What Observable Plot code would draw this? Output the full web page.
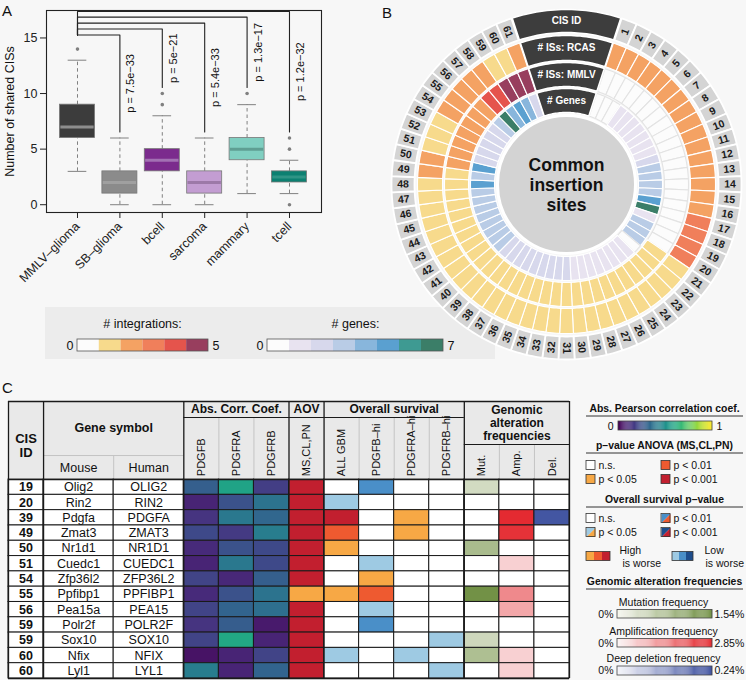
<!DOCTYPE html>
<html><head><meta charset="utf-8">
<script src="https://cdn.jsdelivr.net/npm/d3@7"></script>
<script src="https://cdn.jsdelivr.net/npm/@observablehq/plot@0.6"></script>
<style>
body{margin:0;background:#f7f7f7;font-family:"Liberation Sans",Arial,sans-serif;}
#root{position:relative;width:746px;height:680px;overflow:hidden;background:#f7f7f7;}
.abs{position:absolute;line-height:0;}
.plbl{position:absolute;font-size:15px;color:#111;line-height:1;}
svg{overflow:visible;}
</style></head><body><div id="root"></div>
<script>
// ================= DATA =================
// Panel A
const categories = ["MMLV–glioma","SB–glioma","bcell","sarcoma","mammary","tcell"];
const boxQ1     = [6, 1, 3, 1, 4, 2];
const boxMedian = [7, 2, 4, 2, 5, 2.5];
const boxQ3     = [9, 3, 5, 3, 6, 3];
const whiskerLo = [3, 0, 0, 0, 1, 1];
const whiskerHi = [13, 6, 8, 6, 9, 4];
const outliers  = [[14], [], [9, 10], [], [10], [0, 5, 6]];
const pLabels   = [null, "p = 7.5e−33", "p = 5e−21", "p = 5.4e−33", "p = 1.3e−17", "p = 1.2e−32"];
const bracketHeights = [null, 15.27, 15.8, 16.33, 16.87, 17.38];

// Panel B
const cisNumbers = d3.range(1, 62);
const rcasCounts = [2,2,2,2,2,2,2,2,2,2,2,2,2,2,2,2, 3,3,3,3,
  1,1,1,1,1,1,1,1,1,1,1,1,1,1,1,1,1,1,1,1,1,1,1,1,1,1,1,1,
  2,2, 1,1,1, 2,2,2,2,2, 1,1, 2];
const mmlvCounts = [0,0,0,0,0,0,0,0,0,0,0,0,0,0,0,0,0,0,0,0,
  1,1,1,1,1,1,1,1,1,1,1,1,1,1,1,1,1,1,1,1,1,1,1,1,1,1,1,1,1,
  2,2,2,2,2,2,2, 4,4, 5,5,5];
const geneCounts = [0,0,0, 1,1,1,1,1,1,1, 2, 3,3,3,3, 5, 7, 1, 3,3,3, 0,
  1,1,1,1,1,1,1,1, 2,2,2,2,2,2,2,2,2, 3,3,3,3,3,3,3,3, 5, 3, 5, 2,2,2,2,2, 3, 7, 4, 5, 4, 2];
const ringHeaders = ["CIS ID", "# ISs: RCAS", "# ISs: MMLV", "# Genes"];
const centerLabel = "Common\ninsertion\nsites";
const integrationColors = ["#fcfcfc","#f7da8c","#f4a263","#f07f5b","#e5544c","#983e5e"];
const geneColors = ["#fcfcfc","#e8e3f0","#d7d8ec","#b9cce6","#88b6dc","#5aa0d0","#3e9a92","#3b7e68"];
const legendIntegrationsLabel = "# integrations:";
const legendGenesLabel = "# genes:";

// Panel C
const cisTable   = [19, 20, 39, 49, 50, 51, 54, 55, 56, 59, 59, 60, 60];
const mouseGenes = ["Olig2","Rin2","Pdgfa","Zmat3","Nr1d1","Cuedc1","Zfp36l2","Ppfibp1","Pea15a","Polr2f","Sox10","Nfix","Lyl1"];
const humanGenes = ["OLIG2","RIN2","PDGFA","ZMAT3","NR1D1","CUEDC1","ZFP36L2","PPFIBP1","PEA15","POLR2F","SOX10","NFIX","LYL1"];
const corrPDGFB  = [0.30, 0.10, 0.15, 0.22, 0.12, 0.10, 0.20, 0.12, 0.20, 0.15, 0.20, 0.05, 0.42];
const corrPDGFRA = [0.58, 0.25, 0.40, 0.17, 0.25, 0.40, 0.11, 0.25, 0.32, 0.29, 0.60, 0.10, 0.10];
const corrPDGFRB = [0.18, 0.38, 0.33, 0.42, 0.22, 0.22, 0.30, 0.38, 0.36, 0.07, 0.10, 0.20, 0.32];
const aovLevel   = [3, 3, 3, 3, 3, 3, 3, 1, 3, 3, 3, 3, 3];
// survival: + high is worse, − low is worse; 1: p<0.05, 2: p<0.01, 3: p<0.001
const survAll  = [0, -1, 3, 2, 1, 0, 0, 1, 0, 0, 0, -1, 0];
const survB    = [-2, 0, 0, 0, 0, -1, 1, 2, -1, -2, 0, 0, 0];
const survRA   = [0, 0, 1, 1, 0, 0, 0, 0, 0, 0, 0, -1, 0];
const survRB   = [0, 0, 0, 0, 0, 0, 0, 0, 0, 0, -1, 0, -1];
const mutFreq  = [0.40, 0, 0, 0, 0.85, 0, 0, 1.45, 0, 0, 0.45, 0.80, 0];
const ampFreq  = [0, 0, 2.70, 2.60, 0, 0.50, 0, 1.45, 1.05, 0, 0, 0.50, 0.50];
const delFreq  = [0, 0, 0.22, 0, 0, 0, 0, 0, 0, 0, 0, 0, 0];
const subHeaders = ["PDGFB","PDGFRA","PDGFRB","MS,CL,PN","ALL GBM","PDGFB–hi","PDGFRA–hi","PDGFRB–hi","Mut.","Amp.","Del."];
const groupHeaders = ["Abs. Corr. Coef.","AOV","Overall survival","Genomic\nalteration\nfrequencies"];

// Right legend
const legendTitles = ["Abs. Pearson correlation coef.","p–value ANOVA (MS,CL,PN)","Overall survival p–value","Genomic alteration frequencies"];
const pLevelLabels = ["n.s.","p < 0.05","p < 0.01","p < 0.001"];
const freqLabels = ["Mutation frequency","Amplification frequency","Deep deletion frequency"];
const freqMaxLabels = ["1.54%","2.85%","0.24%"];
const freqMax = [1.54, 2.85, 0.24];

// ================= STYLE / HELPERS =================
const FONT = "'Liberation Sans', Arial, Helvetica, sans-serif";
const anovaColors = ["#ffffff","#f7a845","#ee5a30","#c21f2f"];
const lowColors   = ["#ffffff","#9ecae3","#4a8fc8","#1e4d8c"];
const freqRanges = [["#f7f7f1","#6a8b3b"],["#fcf6f6","#e31f26"],["#f6f6fb","#33479a"]];
const freqScales = freqRanges.map((r, j) => d3.scaleLinear().domain([0, freqMax[j]]).range(r).clamp(true));
const survColor = v => v > 0 ? anovaColors[v] : lowColors[-v];

const root = document.getElementById("root");
function place(node, left, top) {
  const d = document.createElement("div");
  d.className = "abs"; d.style.left = left + "px"; d.style.top = top + "px";
  d.appendChild(node); root.appendChild(d); return d;
}
function label(txt, left, top) {
  const d = document.createElement("div");
  d.className = "plbl"; d.textContent = txt; d.style.left = left + "px"; d.style.top = top + "px";
  root.appendChild(d);
}

// ================= PANEL A =================
const bw = 0.4127, cw = 0.22;
const boxColors = ["#3c3c3c","#8b8b8b","#7b2b8d","#c39dd2","#80cfc1","#0c8071"];
const medColors = ["#8d8d8d","#a0a0a0","#a271b3","#9c79a8","#5f9f93","#2f9485"];
const boxes = categories.map((c, i) => ({i, q1: boxQ1[i], med: boxMedian[i], q3: boxQ3[i], lo: whiskerLo[i], hi: whiskerHi[i], fill: boxColors[i], mc: medColors[i]}));
const outPts = outliers.flatMap((arr, i) => arr.map(v => ({i, v})));
const minH = d3.min(bracketHeights.filter(h => h != null));
const brackets = [], pText = [];
for (let i = 1; i < categories.length; i++) {
  const h = bracketHeights[i];
  const end = Math.max(whiskerHi[i], ...outliers[i]) + 0.55;
  brackets.push({b: i, x: 0, y: minH}, {b: i, x: 0, y: h}, {b: i, x: i, y: h}, {b: i, x: i, y: end});
  pText.push({i, y: (h + end) / 2, t: pLabels[i]});
}
const plotA = Plot.plot({
  width: 330, height: 300, marginLeft: 46, marginRight: 9, marginTop: 10, marginBottom: 88,
  style: {background: "transparent", fontFamily: FONT, fontSize: "12.5px", color: "#222"},
  x: {domain: [-0.731, 5.755], ticks: d3.range(6), tickFormat: i => categories[i], tickRotate: -45, tickSize: 6, label: null},
  y: {domain: [-0.7, 17.47], ticks: [0, 5, 10, 15], tickSize: 6, label: null},
  color: {type: "identity"},
  marks: [
    Plot.ruleX(boxes, {x: "i", y1: "q3", y2: "hi", stroke: "#808080", strokeDasharray: "3.5,3"}),
    Plot.ruleX(boxes, {x: "i", y1: "lo", y2: "q1", stroke: "#808080", strokeDasharray: "3.5,3"}),
    Plot.ruleY(boxes, {y: "hi", x1: d => d.i - cw, x2: d => d.i + cw, stroke: "#808080"}),
    Plot.ruleY(boxes, {y: "lo", x1: d => d.i - cw, x2: d => d.i + cw, stroke: "#808080"}),
    Plot.rect(boxes, {x1: d => d.i - bw, x2: d => d.i + bw, y1: "q1", y2: "q3", fill: "fill", stroke: "#777", strokeWidth: 0.8}),
    Plot.ruleY(boxes, {y: "med", x1: d => d.i - bw + 0.02, x2: d => d.i + bw - 0.02, stroke: "mc", strokeWidth: 3}),
    Plot.dot(outPts, {x: "i", y: "v", r: 1.8, fill: "#808080"}),
    Plot.line(brackets, {x: "x", y: "y", z: "b", stroke: "#222", strokeWidth: 1.1}),
    Plot.text(pText, {x: "i", y: "y", text: "t", rotate: -90, dx: 11, fontSize: 11, fill: "#111"}),
    Plot.frame({stroke: "#222", strokeWidth: 1.1}),
    Plot.text(["Number of shared CISs"], {frameAnchor: "left", rotate: -90, dx: -37, textAnchor: "middle", fontSize: 12.5, fill: "#111"})
  ]
});
place(plotA, 0, 0);

// ================= LEGEND UNDER A/B =================
const boxDiv = document.createElement("div");
boxDiv.style.cssText = "position:absolute;left:45px;top:307px;width:450px;height:52px;background:#ececec;";
root.appendChild(boxDiv);
const intCells = integrationColors.map((c, i) => ({x1: 77 + i * 21.83, x2: 77 + (i + 1) * 21.83, fill: c}));
const geneCells = geneColors.map((c, i) => ({x1: 267 + i * 22, x2: 267 + (i + 1) * 22, fill: c}));
const plotLeg1 = Plot.plot({
  width: 500, height: 62, margin: 0,
  style: {background: "transparent", fontFamily: FONT, fontSize: "12.5px"},
  x: {domain: [40, 540], range: [0, 500], axis: null},
  y: {domain: [300, 362], range: [0, 62], axis: null},
  color: {type: "identity"},
  marks: [
    Plot.text([legendIntegrationsLabel, legendGenesLabel], {x: (d, i) => [142, 355][i], y: 323, text: d => d, fontSize: 12.5, fill: "#111"}),
    Plot.rect(intCells, {x1: "x1", x2: "x2", y1: 339, y2: 351, fill: "fill"}),
    Plot.rect(geneCells, {x1: "x1", x2: "x2", y1: 339, y2: 351, fill: "fill"}),
    Plot.rect([0, 1], {x1: i => [77, 267][i], x2: i => [77 + 6 * 21.83, 267 + 8 * 22][i], y1: 339, y2: 351, stroke: "#555", strokeWidth: 0.8}),
    Plot.text(["0", "0"], {x: (d, i) => [73, 263][i], y: 345.5, text: d => d, textAnchor: "end", fill: "#111"}),
    Plot.text(["5", "7"], {x: (d, i) => [212, 447][i], y: 345.5, text: d => d, textAnchor: "start", fill: "#111"})
  ]
});
place(plotLeg1, 40, 300);

// ================= PANEL B =================
const segStep = 5.3;
const theta1 = 180 - 30 * segStep;
const gapHalf = (360 - cisNumbers.length * segStep) / 2;
const RL = [152, 175], RR = [124, 149], RM = [98, 122], RG = [72, 96];
const rad = Math.PI / 180;
function sectorPts(id, r0, r1, a0, a1, fill, stroke) {
  const n = Math.max(3, Math.ceil((a1 - a0) / 1.2));
  const pts = [];
  for (let i = 0; i <= n; i++) { const a = (a0 + (a1 - a0) * i / n) * rad; pts.push({id, x: r1 * Math.sin(a), y: -r1 * Math.cos(a), fill, stroke}); }
  for (let i = n; i >= 0; i--) { const a = (a0 + (a1 - a0) * i / n) * rad; pts.push({id, x: r0 * Math.sin(a), y: -r0 * Math.cos(a), fill, stroke}); }
  return pts;
}
const labelPolys = [], dataPolys = [], cisText = [];
cisNumbers.forEach((k, i) => {
  const th = theta1 + i * segStep, a0 = th - segStep / 2, a1 = th + segStep / 2;
  labelPolys.push(...sectorPts("l" + k, RL[0], RL[1], a0, a1, "#d4d4d4", "#f7f7f7"));
  const rv = rcasCounts[i], mv = mmlvCounts[i], gv = geneCounts[i];
  dataPolys.push(...sectorPts("r" + k, RR[0], RR[1], a0, a1, integrationColors[rv], rv ? "#ffffff" : "#e3e3e3"));
  dataPolys.push(...sectorPts("m" + k, RM[0], RM[1], a0, a1, integrationColors[mv], mv ? "#ffffff" : "#e3e3e3"));
  dataPolys.push(...sectorPts("g" + k, RG[0], RG[1], a0, a1, geneColors[gv], gv ? "#ffffff" : "#e3e3e3"));
  const rm = (RL[0] + RL[1]) / 2;
  cisText.push({x: rm * Math.sin(th * rad), y: -rm * Math.cos(th * rad), t: String(k), rot: th < 181 ? th - 90 : th - 270});
});
const ringsR = [RL, RR, RM, RG];
const headerPolys = ringsR.flatMap((rr, j) => sectorPts("h" + j, rr[0], rr[1], -gapHalf + 0.3, gapHalf - 0.3, "#3d3d3d", "#ffffff"));
const headerText = ringHeaders.map((t, j) => ({t, x: 0, y: -(ringsR[j][0] + ringsR[j][1]) / 2}));
const plotB = Plot.plot({
  width: 376, height: 370, margin: 0,
  style: {background: "transparent", fontFamily: FONT},
  x: {domain: [-196, 180], range: [0, 376], axis: null},
  y: {domain: [-184, 186], range: [0, 370], axis: null},
  color: {type: "identity"},
  marks: [
    Plot.line(labelPolys, {x: "x", y: "y", z: "id", fill: "fill", stroke: "#ffffff", strokeWidth: 1.8, curve: "linear-closed"}),
    Plot.line(dataPolys, {x: "x", y: "y", z: "id", fill: "fill", stroke: "stroke", strokeWidth: 1.1, curve: "linear-closed"}),
    Plot.line(headerPolys, {x: "x", y: "y", z: "id", fill: "fill", stroke: "#ffffff", strokeWidth: 1.5, curve: "linear-closed"}),
    Plot.text(cisText, {x: "x", y: "y", text: "t", rotate: "rot", fontSize: 10.5, fontWeight: "bold", fill: "#1a1a1a"}),
    Plot.text(headerText, {x: "x", y: "y", text: "t", fontSize: 10, fontWeight: "bold", fill: "#ffffff"}),
    Plot.dot([0], {x: 0, y: 0, r: 69, fill: "#d3d3d3", stroke: "#ffffff", strokeWidth: 3}),
    Plot.text([centerLabel], {x: 0, y: 0, text: d => d, fontSize: 17.5, fontWeight: "bold", lineHeight: 1.15, fill: "#111"})
  ]
});
place(plotB, 370, 0);

// ================= PANEL C (table) =================
const colX = [0, 1, 3, 5, 6, 7, 8, 9, 10, 11, 12, 13, 14, 15, 16];
const cells = [];
cisTable.forEach((id, r) => {
  const fills = [
    "#ffffff", "#ffffff", "#ffffff",
    d3.interpolateViridis(corrPDGFB[r]), d3.interpolateViridis(corrPDGFRA[r]), d3.interpolateViridis(corrPDGFRB[r]),
    anovaColors[aovLevel[r]],
    survColor(survAll[r]), survColor(survB[r]), survColor(survRA[r]), survColor(survRB[r]),
    mutFreq[r] ? freqScales[0](mutFreq[r]) : "#ffffff",
    ampFreq[r] ? freqScales[1](ampFreq[r]) : "#ffffff",
    delFreq[r] ? freqScales[2](delFreq[r]) : "#ffffff"
  ];
  fills.forEach((f, c) => cells.push({x1: colX[c], x2: colX[c + 1], y1: r, y2: r + 1, fill: f}));
});
const rowsT = cisTable.map((id, r) => ({r, id: String(id), m: mouseGenes[r], h: humanGenes[r]}));
const HT = -5.1, HG = -4.05, HS = -1.57, HGen = -2.29;
const nRows = cisTable.length;
const plotC = Plot.plot({
  width: 575, height: 285, margin: 0,
  style: {background: "transparent", fontFamily: FONT, fontSize: "12.5px"},
  x: {domain: [0, 16], range: [8, 569], axis: null},
  y: {domain: [HT, nRows], range: [6, 283], axis: null},
  color: {type: "identity"},
  marks: [
    Plot.rect([0], {x1: 0, x2: 16, y1: HT, y2: 0, fill: "#e9e9e9"}),
    Plot.ruleX([3], {x: d => d, y1: HS, y2: 0, stroke: "#c4c4c4"}),
    Plot.ruleY([HS], {y: d => d, x1: 1, x2: 5, stroke: "#c4c4c4"}),
    Plot.ruleX([6, 7, 10, 11, 12], {x: d => d, y1: HG, y2: 0, stroke: "#c4c4c4"}),
    Plot.ruleX([14, 15], {x: d => d, y1: HGen, y2: 0, stroke: "#c4c4c4"}),
    Plot.rect(cells, {x1: "x1", x2: "x2", y1: "y1", y2: "y2", fill: "fill", stroke: "#1a1a1a", strokeWidth: 1}),
    Plot.ruleX([0, 1, 5, 8, 9, 13, 16], {x: d => d, y1: HT, y2: nRows, stroke: "#1a1a1a", strokeWidth: 1.3}),
    Plot.ruleY([HT, 0, nRows], {y: d => d, x1: 0, x2: 16, stroke: "#1a1a1a", strokeWidth: 1.3}),
    Plot.ruleY([HG], {y: d => d, x1: 5, x2: 13, stroke: "#1a1a1a", strokeWidth: 1.1}),
    Plot.ruleY([HGen], {y: d => d, x1: 13, x2: 16, stroke: "#1a1a1a", strokeWidth: 1.1}),
    Plot.text(["CIS\nID"], {x: 0.5, y: -2.25, text: d => d, fontWeight: "bold", fontSize: 13, lineHeight: 1.1, fill: "#111"}),
    Plot.text(["Gene symbol"], {x: 3, y: -3.35, text: d => d, fontWeight: "bold", fontSize: 12.5, fill: "#111"}),
    Plot.text(["Mouse", "Human"], {x: (d, i) => 2 + 2 * i, y: -0.78, text: d => d, fontSize: 12.5, fill: "#111"}),
    Plot.text(groupHeaders.slice(0, 3), {x: (d, i) => [6.5, 8.5, 11][i], y: (HT + HG) / 2, text: d => d, fontWeight: "bold", fontSize: 12, fill: "#111"}),
    Plot.text([groupHeaders[3]], {x: 14.5, y: (HT + HGen) / 2, text: d => d, fontWeight: "bold", fontSize: 12, lineHeight: 1.08, fill: "#111"}),
    Plot.text(subHeaders, {x: (d, i) => 5.5 + i, y: -0.22, text: d => d, rotate: -90, textAnchor: "start", fontSize: 11, fill: "#111"}),
    Plot.text(rowsT, {x: 0.5, y: d => d.r + 0.5, text: "id", fontWeight: "bold", fontSize: 12.5, fill: "#111"}),
    Plot.text(rowsT, {x: 2, y: d => d.r + 0.5, text: "m", fontSize: 12.5, fill: "#111"}),
    Plot.text(rowsT, {x: 4, y: d => d.r + 0.5, text: "h", fontSize: 12.5, fill: "#111"})
  ]
});
place(plotC, 0, 395);

// ================= RIGHT LEGEND =================
const titleY = [408, 445, 499, 581];
const rampSteps = d3.range(0, 1, 0.01);
const corrRamp = rampSteps.map(t => ({x1: 618 + t * 94, x2: 618 + (t + 0.011) * 94, y1: 421, y2: 430, fill: d3.interpolateViridis(t + 0.005)}));
const freqY = [[603, 609.5, 618], [632, 638.5, 647], [659, 666, 675]];
const freqRamps = freqLabels.flatMap((lab, j) => rampSteps.map(t => ({x1: 617 + t * 95, x2: 617 + (t + 0.011) * 95, y1: freqY[j][1], y2: freqY[j][2], fill: freqScales[j](t * freqMax[j])})));
const swPos = [[586, 0], [586, 1], [661, 0], [661, 1]];
const anovaSw = pLevelLabels.map((l, k) => ({x: swPos[k][0], y: 465 + swPos[k][1] * 14, l, fill: anovaColors[k]}));
const survSw = pLevelLabels.map((l, k) => ({x: swPos[k][0], y: 518 + swPos[k][1] * 14, l, k}));
const tri = [];
survSw.forEach(d => {
  if (d.k === 0) return;
  const x0 = d.x, x1 = d.x + 9, y0 = d.y - 4.5, y1 = d.y + 4.5;
  tri.push({id: "a" + d.k, x: x0, y: y0, fill: lowColors[d.k]}, {id: "a" + d.k, x: x1, y: y0, fill: lowColors[d.k]}, {id: "a" + d.k, x: x0, y: y1, fill: lowColors[d.k]});
  tri.push({id: "b" + d.k, x: x1, y: y0, fill: anovaColors[d.k]}, {id: "b" + d.k, x: x1, y: y1, fill: anovaColors[d.k]}, {id: "b" + d.k, x: x0, y: y1, fill: anovaColors[d.k]});
});
const worseCells = [1, 2, 3].flatMap(k => [
  {x1: 586 + (k - 1) * 8, x2: 586 + k * 8, fill: anovaColors[k]},
  {x1: 672 + (k - 1) * 7, x2: 672 + k * 7, fill: lowColors[k]}
]);
const plotL = Plot.plot({
  width: 166, height: 282, margin: 0,
  style: {background: "transparent", fontFamily: FONT, fontSize: "10.5px"},
  x: {domain: [580, 746], range: [0, 166], axis: null},
  y: {domain: [398, 680], range: [0, 282], axis: null},
  color: {type: "identity"},
  marks: [
    Plot.text(legendTitles, {x: 664, y: (d, i) => titleY[i], text: d => d, fontWeight: "bold", fontSize: 10.4, fill: "#111"}),
    Plot.ruleY(titleY, {y: d => d + 7.5, x1: 586, x2: 743, stroke: "#333", strokeWidth: 1}),
    Plot.rect(corrRamp, {x1: "x1", x2: "x2", y1: "y1", y2: "y2", fill: "fill"}),
    Plot.rect([0], {x1: 618, x2: 712, y1: 421, y2: 430, stroke: "#444", strokeWidth: 0.8}),
    Plot.text(["0"], {x: 613, y: 426, text: d => d, textAnchor: "end", fill: "#111"}),
    Plot.text(["1"], {x: 716, y: 426, text: d => d, textAnchor: "start", fill: "#111"}),
    Plot.rect(anovaSw, {x1: "x", x2: d => d.x + 9, y1: d => d.y - 4.5, y2: d => d.y + 4.5, fill: "fill", stroke: "#333", strokeWidth: 0.8}),
    Plot.text(anovaSw, {x: d => d.x + 12, y: "y", text: "l", textAnchor: "start", fill: "#111"}),
    Plot.rect(survSw.filter(d => d.k === 0), {x1: "x", x2: d => d.x + 9, y1: d => d.y - 4.5, y2: d => d.y + 4.5, fill: "#ffffff"}),
    Plot.line(tri, {x: "x", y: "y", z: "id", fill: "fill", curve: "linear-closed"}),
    Plot.rect(survSw, {x1: "x", x2: d => d.x + 9, y1: d => d.y - 4.5, y2: d => d.y + 4.5, stroke: "#333", strokeWidth: 0.8}),
    Plot.text(survSw, {x: d => d.x + 12, y: "y", text: "l", textAnchor: "start", fill: "#111"}),
    Plot.rect(worseCells, {x1: "x1", x2: "x2", y1: 551.5, y2: 560.5, fill: "fill"}),
    Plot.rect([0, 1], {x1: i => [586, 672][i], x2: i => [610, 693][i], y1: 551.5, y2: 560.5, stroke: "#333", strokeWidth: 0.8}),
    Plot.text(["High", "Low"], {x: (d, i) => [619, 704][i], y: 550, text: d => d, textAnchor: "start", fill: "#111"}),
    Plot.text(["is worse", "is worse"], {x: (d, i) => [622, 705][i], y: 563, text: d => d, textAnchor: "start", fill: "#111"}),
    Plot.text(freqLabels, {x: 663, y: (d, i) => freqY[i][0] - 1, text: d => d, fill: "#111"}),
    Plot.rect(freqRamps, {x1: "x1", x2: "x2", y1: "y1", y2: "y2", fill: "fill"}),
    Plot.rect(freqY, {x1: 617, x2: 712, y1: d => d[1], y2: d => d[2], stroke: "#444", strokeWidth: 0.8}),
    Plot.text(freqY, {x: 613, y: d => (d[1] + d[2]) / 2, text: () => "0%", textAnchor: "end", fill: "#111"}),
    Plot.text(freqMaxLabels, {x: 714, y: (d, i) => (freqY[i][1] + freqY[i][2]) / 2, text: d => d, textAnchor: "start", fill: "#111"})
  ]
});
place(plotL, 580, 398);

// panel letters
label("A", 2, 3);
label("B", 382, 5);
label("C", 2, 380);
</script></body></html>
